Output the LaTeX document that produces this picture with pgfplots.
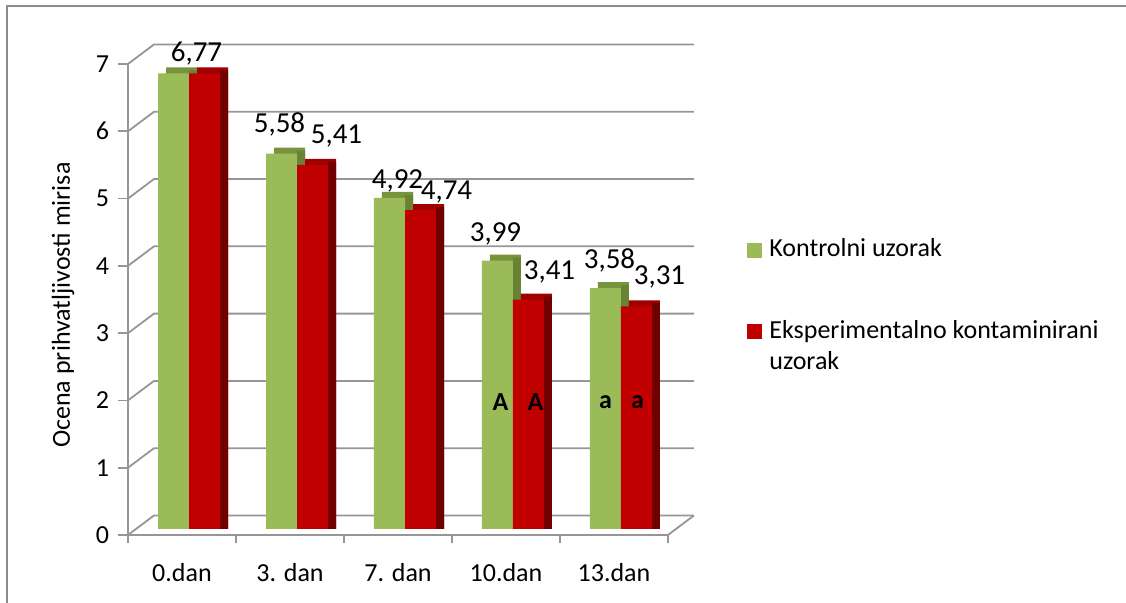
\documentclass[border=0pt]{standalone}
\usepackage{pgfplots}
\pgfplotsset{compat=1.18}
\usepackage{pgfplotstable}
\usepackage{fontspec}
\setmainfont{Carlito}
\definecolor{gfront}{RGB}{155,187,89}
\definecolor{gtop}{RGB}{119,147,60}
\definecolor{gside}{RGB}{104,131,52}
\definecolor{rfront}{RGB}{192,0,0}
\definecolor{rtop}{RGB}{160,0,0}
\definecolor{rside}{RGB}{112,0,0}
\definecolor{gridc}{RGB}{150,150,150}
\definecolor{framec}{RGB}{140,140,140}
\pgfplotstableread{
x g r glx gly gop rlx rly
0 6.77 6.77 11.5 9.75 0 -4 9.75
1 5.58 5.41 -1 14.5 1 12 14.5
2 4.92 4.74 4 8.5 1 13 9
3 3.99 3.41 -1 13.5 1 10.5 14
4 3.58 3.31 2 14 1 11.5 14.5
}\data
\begin{document}
\fontsize{13}{15.6}\selectfont
\begin{tikzpicture}
\path[use as bounding box] (0pt,0pt) rectangle (563pt,301.5pt);
\draw[framec, line width=1pt] (3.5pt,0pt) -- (3.5pt,298.25pt) -- (563pt,298.25pt);
% frame axis
\begin{axis}[at={(64pt,34pt)}, anchor=south west, scale only axis,
  width=270pt, height=235.5pt,
  xmin=-0.5, xmax=4.5, ymin=0, ymax=7, clip=false,
  axis x line*=bottom, axis y line*=left,
  axis line style={gridc, line width=0.9pt},
  ytick={0,...,7}, ytick style={gridc, line width=0.9pt},
  major tick length=5pt, tick align=outside,
  xtick={0,...,4}, xtick style={draw=none},
  xticklabels={0.dan,3. dan,7. dan,10.dan,13.dan},
  xticklabel style={yshift=-4.5pt},
  /pgf/number format/assume math mode=true,
  ylabel={Ocena prihvatljivosti mirisa},
  ylabel style={at={(axis description cs:-0.1204,0.488)}, anchor=center, rotate=0},
]
\pgfplotsinvokeforeach{-0.5,0.5,1.5,2.5,3.5,4.5}{
  \draw[gridc, line width=0.9pt] (axis cs:#1,0) -- ++(0pt,-4pt);
}
\pgfplotsinvokeforeach{0,...,7}{
  \draw[gridc, line width=0.9pt] (axis cs:-0.5,#1) -- ([shift={(13pt,9.75pt)}]axis cs:-0.5,#1) -- ([shift={(13pt,9.75pt)}]axis cs:4.5,#1);
}
\draw[gridc, line width=0.9pt] (axis cs:4.5,0) -- ([shift={(13pt,9.75pt)}]axis cs:4.5,0);
\end{axis}
% bar axis
\begin{axis}[at={(67.5pt,37pt)}, anchor=south west, scale only axis,
  width=270pt, height=235.5pt,
  xmin=-0.5, xmax=4.5, ymin=0, ymax=7, hide axis, clip=false,
  ybar, bar width=15.5pt,
  /pgf/number format/.cd, use comma, fixed, fixed zerofill, precision=2, assume math mode=true, /pgfplots/.cd,
]
\addplot[fill=gtop, draw=none, bar shift=-3.75pt] table[x=x, y expr=\thisrow{g}+0.089]{\data};
\addplot[fill=gside, draw=none, bar width=4pt, bar shift=2pt] table[x=x, y expr=\thisrow{g}+0.045]{\data};
\addplot[fill=gfront, draw=none, bar shift=-7.75pt,
  visualization depends on={\thisrow{glx} \as \lx},
  visualization depends on={\thisrow{gly} \as \ly},
  visualization depends on={\thisrow{gop} \as \op},
  nodes near coords, nodes near coords style={anchor=center, xshift=\lx pt, yshift=\ly pt, text=black, text opacity=\op, font=\fontsize{14.5}{17}\selectfont}]
  table[x=x, y=g]{\data};
\addplot[fill=rtop, draw=none, bar shift=11.75pt] table[x=x, y expr=\thisrow{r}+0.089]{\data};
\addplot[fill=rside, draw=none, bar width=4pt, bar shift=17.5pt] table[x=x, y expr=\thisrow{r}+0.045]{\data};
\addplot[fill=rfront, draw=none, bar shift=7.75pt,
  visualization depends on={\thisrow{rlx} \as \lx},
  visualization depends on={\thisrow{rly} \as \ly},
  nodes near coords, nodes near coords style={anchor=center, xshift=\lx pt, yshift=\ly pt, text=black, font=\fontsize{14.5}{17}\selectfont}]
  table[x=x, y=r]{\data};
\node[font=\bfseries] at ([xshift=-6.25pt]axis cs:3,1.89) {A};
\node[font=\bfseries] at ([xshift=11.25pt]axis cs:3,1.89) {A};
\node[font=\bfseries] at ([xshift=-7.75pt]axis cs:4,1.89) {a};
\node[font=\bfseries] at ([xshift=8.25pt]axis cs:4,1.89) {a};
\end{axis}
% legend
\fill[gfront] (373.5pt,172.5pt) rectangle ++(7.5pt,7.5pt);
\node[anchor=base west, inner sep=0pt] at (384.5pt,173pt) {Kontrolni uzorak};
\fill[rfront] (373.5pt,132pt) rectangle ++(7.5pt,7.5pt);
\node[anchor=base west, inner sep=0pt] at (384.5pt,132pt) {Eksperimentalno kontaminirani};
\node[anchor=base west, inner sep=0pt] at (384.5pt,116.5pt) {uzorak};
\end{tikzpicture}
\end{document}
